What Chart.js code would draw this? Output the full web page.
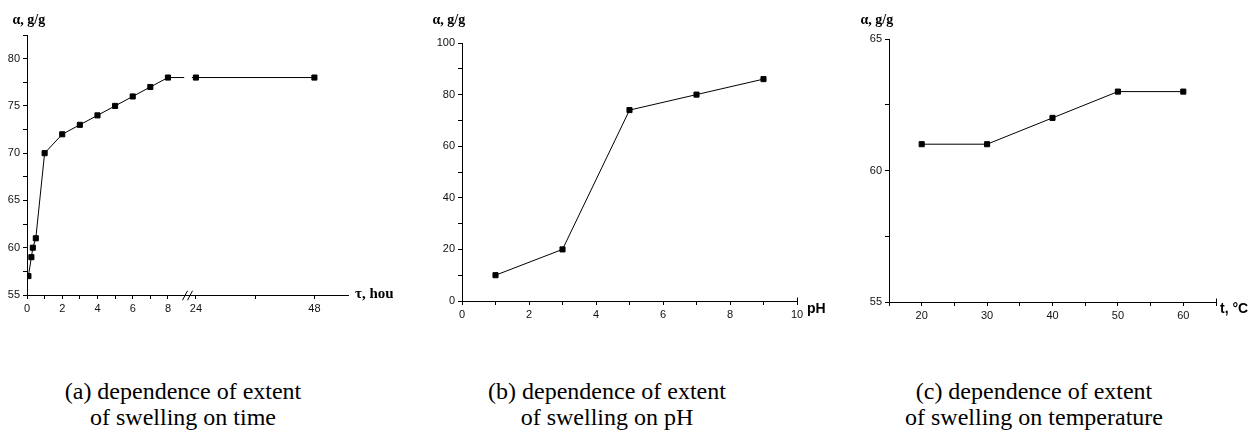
<!DOCTYPE html>
<html>
<head>
<meta charset="utf-8">
<script src="https://cdn.jsdelivr.net/npm/chart.js@4/dist/chart.umd.min.js"></script>
<style>
  html, body { margin: 0; padding: 0; background: #fff; }
  #wrap { position: relative; width: 1251px; height: 430px; overflow: hidden; background: #fff; }
  canvas { position: absolute; top: 0; }
  .cap { position: absolute; top: 378px; width: 360px; margin-left: -180px; text-align: center;
         font-family: "Liberation Serif", "Times New Roman", serif; font-size: 24px; line-height: 26px; color: #000; white-space: nowrap; }
</style>
</head>
<body>
<div id="wrap">
  <canvas id="ca" width="393" height="330" style="left:0px"></canvas>
  <canvas id="cb" width="430" height="330" style="left:400px"></canvas>
  <canvas id="cc" width="411" height="330" style="left:840px"></canvas>
  <div class="cap" style="left:183px">(a) dependence of extent<br>of swelling on time</div>
  <div class="cap" style="left:607px">(b) dependence of extent<br>of swelling on pH</div>
  <div class="cap" style="left:1034px">(c) dependence of extent<br>of swelling on temperature</div>
</div>
<script>
// ---------------- data ----------------
const hoursA = [0.08, 0.25, 0.33, 0.5, 1, 2, 3, 4, 5, 6, 7, 8, 24, 48];
const swellA = [57, 59, 60, 61, 70, 72, 73, 74, 75, 76, 77, 78, 78, 78];
const hourTicksA = [0, 1, 2, 3, 4, 5, 6, 7, 8, 24, 36, 48];
const hourLabelsA = [0, 2, 4, 6, 8, 24, 48];

const pHB = [1, 3, 5, 7, 9];
const swellB = [10, 20, 74, 80, 86];

const tempC = [20, 30, 40, 50, 60];
const swellC = [61, 61, 62, 63, 63];

const yLabelText = 'α, g/g';
const xLabelA = 'τ, hour';
const xLabelB = 'pH';
const xLabelC = 't, °C';

// ---------------- broken-axis scale ----------------
class BrokenScale extends Chart.LinearScale {
  static id = 'broken';
  static defaults = {};
  buildTicks() {
    return (this.options.tickValues || []).map(v => ({ value: v }));
  }
  _dec(v) {
    const b = this.options.brk;
    if (v <= b.left) return (v - this.min) / (b.left - this.min) * b.frac;
    if (v >= b.right) return b.frac + (v - b.right) / (this.max - b.right) * (1 - b.frac);
    return b.frac;
  }
  getPixelForValue(v) {
    if (v === null || v === undefined) return NaN;
    return this.getPixelForDecimal(this._dec(v));
  }
  getValueForPixel(p) {
    const d = this.getDecimalForPixel(p);
    const b = this.options.brk;
    if (d <= b.frac) return this.min + d / b.frac * (b.left - this.min);
    return b.right + (d - b.frac) / (1 - b.frac) * (this.max - b.right);
  }
}
Chart.register(BrokenScale);

// ---------------- helpers ----------------
const TICK_FONT = { family: "'Liberation Sans Narrow','Liberation Sans',Arial,sans-serif", size: 11 };

function axis(extra) {
  return Object.assign({
    border: { display: true, color: '#000', width: 1 },
    grid: { display: true, drawOnChartArea: false, drawTicks: true, tickLength: 4, color: '#000', tickWidth: 1 },
    ticks: { font: TICK_FONT, color: '#111', padding: 3, autoSkip: false, maxRotation: 0, minRotation: 0 }
  }, extra);
}
function yFit(w) {
  return function (s) { s.width = w; s.paddingTop = 0; s.paddingBottom = 0; };
}
function xFit(h) {
  return function (s) { s.height = h; s.paddingLeft = 0; s.paddingRight = 0; };
}
function pts(xs, ys) { return xs.map((x, i) => ({ x: x, y: ys[i] })); }

const decor = {
  id: 'decor',
  afterDatasetsDraw(chart, args, o) {
    if (!o.brk) return;
    const ctx = chart.ctx, ca = chart.chartArea, xs = chart.scales.x;
    const px = xs.getPixelForValue(xs.options.brk.left);
    ctx.save();
    ctx.fillStyle = '#fff';
    ctx.fillRect(px - 3.3, ca.top, 7.7, ca.bottom - 3 - ca.top);
    ctx.restore();
  },
  afterDraw(chart, args, o) {
    const ctx = chart.ctx, ca = chart.chartArea;
    ctx.save();
    ctx.fillStyle = '#000';
    ctx.strokeStyle = '#000';
    ctx.lineWidth = 1;
    ctx.font = o.yFont;
    ctx.textBaseline = 'middle';
    ctx.textAlign = 'left';
    ctx.fillText(o.yText, o.yX, o.yY);
    ctx.font = o.xFont;
    ctx.textBaseline = 'alphabetic';
    ctx.fillText(o.xText, ca.right + o.xDX, ca.bottom + o.xDY);
    if (o.endTick) {
      const x = Math.round(ca.right) + 0.5, y = Math.round(ca.bottom) + 0.5;
      ctx.beginPath(); ctx.moveTo(x, y); ctx.lineTo(x, y - 4); ctx.stroke();
    }
    if (o.brk) {
      const xs = chart.scales.x;
      const px = xs.getPixelForValue(xs.options.brk.left);
      const y = ca.bottom + 0.5;
      ctx.beginPath();
      [-2.5, 2.5].forEach(dx => {
        ctx.moveTo(px + dx - 2.5, y + 4.7);
        ctx.lineTo(px + dx + 2.5, y - 4.7);
      });
      ctx.stroke();
    }
    ctx.restore();
  }
};

function lineDataset(data) {
  return {
    data: data,
    borderColor: '#000',
    borderWidth: 1,
    tension: 0,
    pointStyle: 'rect',
    pointRadius: 3.6,
    pointBorderWidth: 1,
    pointBackgroundColor: '#000',
    pointBorderColor: '#000',
    fill: false
  };
}

const baseOpts = {
  responsive: false,
  animation: false,
  events: [],
  devicePixelRatio: 1
};

const Y_FONT = 'bold 14px "Liberation Serif", "Times New Roman", serif';
const X_FONT_SERIF = 'bold 15px "Liberation Serif", "Times New Roman", serif';
const X_FONT_SANS = 'bold 14px "Liberation Sans", Arial, sans-serif';

// ---------------- chart (a) ----------------
new Chart(document.getElementById('ca'), {
  type: 'line',
  data: { datasets: [lineDataset(pts(hoursA, swellA))] },
  plugins: [decor],
  options: Object.assign({}, baseOpts, {
    layout: { padding: { left: 0, top: 35, right: 45, bottom: 0 } },
    plugins: {
      legend: { display: false }, tooltip: { enabled: false },
      decor: { yText: yLabelText, yFont: Y_FONT, yX: 12.5, yY: 20,
               xText: xLabelA, xFont: X_FONT_SERIF, xDX: 7, xDY: 2.5, brk: true, endTick: false }
    },
    scales: {
      x: axis({
        type: 'broken', min: 0, max: 54.8,
        brk: { left: 9.11, right: 22.3, frac: 0.5 },
        tickValues: hourTicksA,
        afterFit: xFit(35),
        ticks: { font: TICK_FONT, color: '#111', padding: 3, autoSkip: false, maxRotation: 0, minRotation: 0,
                 callback: v => hourLabelsA.includes(v) ? String(v) : '' }
      }),
      y: axis({
        type: 'linear', min: 55, max: 82.5,
        afterFit: yFit(27),
        ticks: { font: TICK_FONT, color: '#111', padding: 3, autoSkip: false, stepSize: 2.5,
                 callback: v => (v % 5 === 0 ? String(v) : '') }
      })
    }
  })
});

// ---------------- chart (b) ----------------
new Chart(document.getElementById('cb'), {
  type: 'line',
  data: { datasets: [lineDataset(pts(pHB, swellB))] },
  plugins: [decor],
  options: Object.assign({}, baseOpts, {
    layout: { padding: { left: 0, top: 43, right: 33, bottom: 0 } },
    plugins: {
      legend: { display: false }, tooltip: { enabled: false },
      decor: { yText: yLabelText, yFont: Y_FONT, yX: 32.5, yY: 20,
               xText: xLabelB, xFont: X_FONT_SANS, xDX: 10, xDY: 12, brk: false, endTick: true }
    },
    scales: {
      x: axis({
        type: 'linear', min: 0, max: 10,
        afterFit: xFit(29),
        ticks: { font: TICK_FONT, color: '#111', padding: 3, autoSkip: false, maxRotation: 0, stepSize: 1,
                 callback: v => (v % 2 === 0 ? String(v) : '') }
      }),
      y: axis({
        type: 'linear', min: 0, max: 100,
        afterFit: yFit(62),
        ticks: { font: TICK_FONT, color: '#111', padding: 3, autoSkip: false, stepSize: 10,
                 callback: v => (v % 20 === 0 ? String(v) : '') }
      })
    }
  })
});

// ---------------- chart (c) ----------------
new Chart(document.getElementById('cc'), {
  type: 'line',
  data: { datasets: [lineDataset(pts(tempC, swellC))] },
  plugins: [decor],
  options: Object.assign({}, baseOpts, {
    layout: { padding: { left: 0, top: 39, right: 35, bottom: 0 } },
    plugins: {
      legend: { display: false }, tooltip: { enabled: false },
      decor: { yText: yLabelText, yFont: Y_FONT, yX: 20.5, yY: 20.5,
               xText: xLabelC, xFont: X_FONT_SANS, xDX: 4, xDY: 11, brk: false, endTick: true }
    },
    scales: {
      x: axis({
        type: 'linear', min: 15, max: 65,
        afterFit: xFit(28),
        ticks: { font: TICK_FONT, color: '#111', padding: 3, autoSkip: false, maxRotation: 0, stepSize: 5,
                 callback: v => (v % 10 === 0 ? String(v) : '') }
      }),
      y: axis({
        type: 'linear', min: 55, max: 65,
        afterFit: yFit(49),
        ticks: { font: TICK_FONT, color: '#111', padding: 3, autoSkip: false, stepSize: 2.5,
                 callback: v => (v % 5 === 0 ? String(v) : '') }
      })
    }
  })
});
</script>
</body>
</html>
